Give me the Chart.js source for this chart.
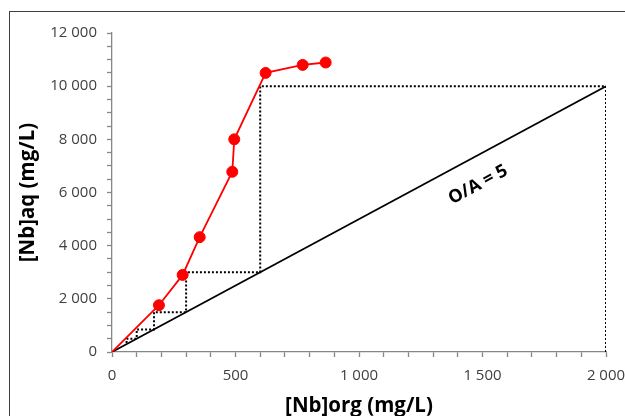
<!DOCTYPE html>
<html>
<head>
<meta charset="utf-8">
<script src="https://cdn.jsdelivr.net/npm/chart.js@4.4.1/dist/chart.umd.min.js"></script>
<style>
  html, body { margin: 0; padding: 0; background: #fff; }
  #wrap { position: relative; width: 625px; height: 416px; overflow: hidden; }
  #frame { position: absolute; left: 9px; top: 11px; width: 700px; height: 500px;
           border-left: 1px solid #404040; border-top: 1px solid #404040; pointer-events: none; }
  canvas { position: absolute; left: 0; top: 0; }
</style>
</head>
<body>
<div id="wrap">
  <canvas id="c" width="625" height="416"></canvas>
  <div id="frame"></div>
</div>
<script>
// Equilibrium curve (measured points)
const eqX = [0, 190, 286, 355, 487, 495, 622, 772, 865];
const eqY = [0, 1760, 2900, 4320, 6780, 8000, 10500, 10800, 10890];
// Operating line O/A = 5
const opX = [0, 2000];
const opY = [0, 10000];
// McCabe-Thiele staircase (dotted)
const stairX = [2000, 2000, 600, 600, 300, 300, 170, 170, 100, 100, 59, 59];
const stairY = [0, 10000, 10000, 3000, 3000, 1500, 1500, 850, 850, 500, 500, 295];
// Axes
const xTickLabels = [0, 500, 1000, 1500, 2000];
const yTickLabels = [0, 2000, 4000, 6000, 8000, 10000, 12000];
const xTitle = '[Nb]org (mg/L)';
const yTitle = '[Nb]aq (mg/L)';
const lineLabel = 'O/A = 5';
const lineLabelPos = [1482, 6290];

const pts = (xs, ys) => xs.map((x, i) => ({x: x, y: ys[i]}));
const fmt = v => String(v).replace(/\B(?=(\d{3})+(?!\d))/g, ' ');
const FONT = '"Open Sans", Lato, sans-serif';

const labelPlugin = {
  id: 'lineLabel',
  afterDatasetsDraw(chart) {
    const {ctx, scales: {x, y}} = chart;
    const x0 = x.getPixelForValue(opX[0]), y0 = y.getPixelForValue(opY[0]);
    const x1 = x.getPixelForValue(opX[1]), y1 = y.getPixelForValue(opY[1]);
    const ang = Math.atan2(y1 - y0, x1 - x0);
    const px = x.getPixelForValue(lineLabelPos[0]);
    const py = y.getPixelForValue(lineLabelPos[1]);
    ctx.save();
    ctx.translate(px, py);
    ctx.rotate(ang);
    ctx.font = 'bold 18px ' + FONT;
    ctx.fillStyle = '#000';
    ctx.textAlign = 'center';
    ctx.textBaseline = 'middle';
    ctx.fillText(lineLabel, 0, 0);
    ctx.restore();
  }
};

new Chart(document.getElementById('c'), {
  type: 'scatter',
  data: {
    datasets: [
      {
        data: pts(stairX, stairY),
        showLine: true,
        borderColor: '#000',
        borderWidth: 2,
        borderDash: [2, 2],
        pointRadius: 0,
        order: 3
      },
      {
        data: pts(opX, opY),
        showLine: true,
        borderColor: '#000',
        borderWidth: 1.7,
        pointRadius: 0,
        order: 2
      },
      {
        data: pts(eqX, eqY),
        showLine: true,
        borderColor: '#ff0000',
        borderWidth: 1.8,
        backgroundColor: '#ff0000',
        pointBackgroundColor: '#ff0000',
        pointBorderColor: '#ff0000',
        pointRadius: ctx => ctx.dataIndex === 0 ? 0 : 5.5,
        pointBorderWidth: 1,
        order: 1
      }
    ]
  },
  options: {
    responsive: false,
    animation: false,
    events: [],
    layout: { padding: { top: 33, right: 19, bottom: 0, left: 0 } },
    plugins: { legend: { display: false }, tooltip: { enabled: false } },
    scales: {
      x: {
        type: 'linear',
        min: 0, max: 2000,
        afterFit: s => { s.height = 64; s.paddingLeft = 0; s.paddingRight = 0; },
        border: { display: true, color: '#868686', width: 1.3 },
        grid: { display: true, drawOnChartArea: false, drawTicks: true, tickLength: 5, tickColor: '#868686', tickWidth: 1.3 },
        ticks: {
          stepSize: 100, autoSkip: false, maxRotation: 0, padding: 10,
          color: '#404040',
          font: { family: FONT, size: 15 },
          callback: v => xTickLabels.includes(v) ? fmt(v) : ''
        },
        title: {
          display: true, text: xTitle, color: '#000',
          font: { family: FONT, size: 20.5, weight: 'bold', lineHeight: 1 },
          padding: { top: 0, bottom: 0 }
        }
      },
      y: {
        type: 'linear',
        min: 0, max: 12000,
        afterFit: s => { s.width = 112; s.paddingTop = 0; s.paddingBottom = 0; },
        border: { display: true, color: '#868686', width: 1.3 },
        grid: { display: true, drawOnChartArea: false, drawTicks: true, tickLength: 5, tickColor: '#868686', tickWidth: 1.3 },
        ticks: {
          stepSize: 500, autoSkip: false, padding: 10,
          color: '#404040',
          font: { family: FONT, size: 15 },
          callback: v => yTickLabels.includes(v) ? fmt(v) : ''
        },
        title: {
          display: true, text: yTitle, color: '#000',
          font: { family: FONT, size: 20.5, weight: 'bold', lineHeight: 1 },
          padding: { top: 18, bottom: 0 }
        }
      }
    }
  },
  plugins: [labelPlugin]
});
</script>
</body>
</html>
